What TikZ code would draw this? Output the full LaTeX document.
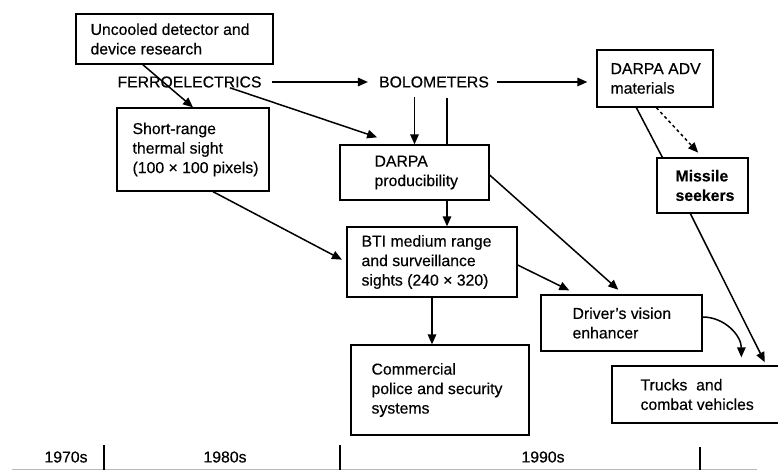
\documentclass[tikz,border=0pt]{standalone}
\usepackage{fontspec}
\setmainfont{Liberation Sans}[FakeBold=0.35]
\usetikzlibrary{arrows.meta,positioning,calc}

\begin{document}
\begin{tikzpicture}[
  x=1pt, y=-1pt,
  font=\fontsize{15.8}{19.5}\selectfont,
  box/.style={draw, line width=1.3pt, inner sep=0pt},
  lbl/.style={align=left, inner sep=0pt},
  word/.style={inner sep=0pt},
  link/.style={line width=1.5pt},
  arr/.style={link, -{Triangle[length=10pt,width=8.5pt]}},
  dotarr/.style={arr, dash pattern=on 3pt off 3pt},
  tick/.style={line width=1.1pt},
]
\useasboundingbox (0,0) rectangle (778,470);

% ---- boxes ----
\node[box, minimum width=197pt, minimum height=50pt] (unc) at (174.5,39) {};
\node[lbl, right=15pt of unc.west] {Uncooled detector and\\device research};

\node[box, minimum width=116pt, minimum height=57pt] (adv) at (655,78.5) {};
\node[lbl, right=14pt of adv.west] {DARPA ADV\\materials};

\node[box, minimum width=152pt, minimum height=83pt] (short) at (193,149.5) {};
\node[lbl, right=16pt of short.west] {Short-range\\thermal sight\\(100 × 100 pixels)};

\node[box, minimum width=149pt, minimum height=55pt] (prod) at (414.5,172.5) {};
\node[lbl, right=35pt of prod.west] {DARPA\\producibility};

\node[box, minimum width=91pt, minimum height=55pt] (miss) at (702.5,185.5) {};
\node[lbl, font=\fontsize{15.8}{19.5}\selectfont\bfseries, right=19pt of miss.west] {Missile\\seekers};

\node[box, minimum width=170pt, minimum height=70pt] (bti) at (432,262) {};
\node[lbl, right=15pt of bti.west] {BTI medium range\\and surveillance\\sights (240 × 320)};

\node[box, minimum width=161pt, minimum height=56pt] (drv) at (621.5,323) {};
\node[lbl, right=32pt of drv.west] {Driver's vision\\enhancer};

\node[box, minimum width=178pt, minimum height=90pt] (comm) at (440,390) {};
\node[lbl, right=21pt of comm.west] {Commercial\\police and security\\systems};

\node[box, minimum width=180pt, minimum height=57pt] (trk) at (702,394.5) {};
\node[lbl, right=29pt of trk.west] {Trucks\ \ and\\combat vehicles};

% ---- technology labels ----
\node[word] (ferro) at (189.5,82) {FERROELECTRICS};
\node[word] (bolo) at (434,82) {BOLOMETERS};

% ---- connectors ----
\draw[arr] ($(unc.south west)!0.34!(unc.south east)$) -- (short.north);
\draw[arr, shorten <=10pt, shorten >=11pt] (ferro.east) -- (bolo.west);
\draw[arr, shorten <=8pt, shorten >=9pt] (bolo.east) -- (adv.west |- bolo.east);
\draw[arr, shorten >=22pt] ($(ferro.south west)!0.78!(ferro.south east)$)
  -- ($(prod.north west)!0.39!(prod.north east)$);
\draw[arr, shorten <=9.5pt] (prod.north |- bolo.south) -- (prod.north);
\draw[link, shorten <=10.5pt] ([xshift=32.5pt]prod.north |- bolo.south) -- ([xshift=32.5pt]prod.north);
\draw[arr] ([xshift=32.5pt]prod.south) -- ([xshift=32.5pt]prod.south |- bti.north);
\draw[arr, shorten >=5pt] ([xshift=20pt]short.south) -- (bti.west);
\draw[arr, shorten >=7pt] ([yshift=-2.5pt]prod.east) -- ([xshift=2pt]drv.north);
\draw[arr, shorten >=9pt] ([yshift=-3pt]bti.east) -- ([xshift=37pt]drv.north west);
\draw[arr] (bti.south) -- (bti.south |- comm.north);
\draw[link] ([xshift=40pt]adv.south west) -- ([xshift=6pt]miss.north west);
\draw[arr, shorten >=3.5pt] ([xshift=34pt]miss.south west) -- ([xshift=155pt]trk.north west);
\draw[dotarr, shorten >=6.5pt] ([xshift=60pt]adv.south west) -- (miss.north);
\draw[arr] ([yshift=6pt]drv.east) to[out=0, in=90] ([xshift=130pt, yshift=8pt]trk.north west);

% ---- time scale ----
\draw[line width=0.8pt, gray!55] (12,469) -- (757,469);
\draw[tick] (104,445) -- (104,470);
\draw[tick] (340,445) -- (340,470);
\draw[tick] (700,447) -- (700,470);
\node[word] (d70) at (66,457) {1970s};
\node[word] (d80) at (225,457) {1980s};
\node[word] (d90) at (543,457) {1990s};
\end{tikzpicture}
\end{document}
